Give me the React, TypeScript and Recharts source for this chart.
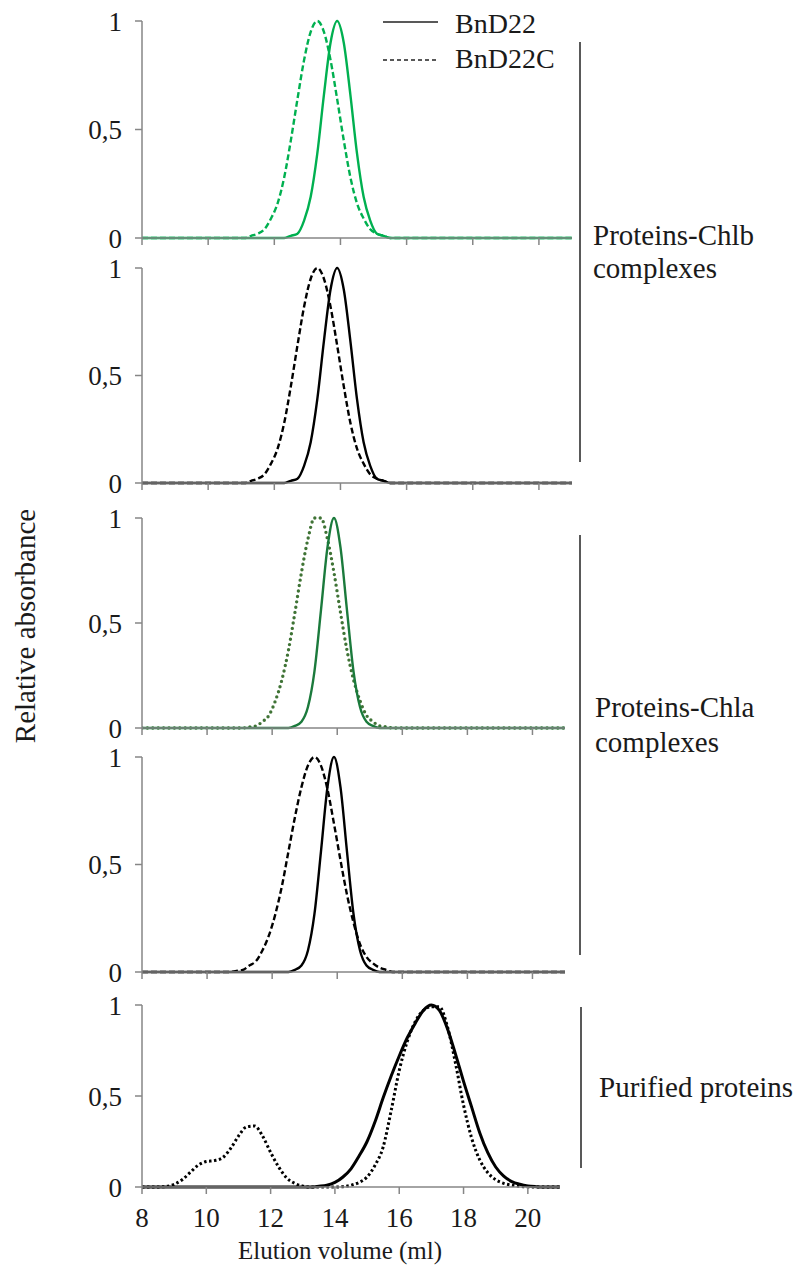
import { Line, LineChart, XAxis, YAxis } from "recharts";

// elution volume (ml) sample points
const elutionComplex = [
  8, 10.7, 10.9, 11.1, 11.3, 11.5, 11.7, 11.9, 12.1, 12.3, 12.5, 12.7, 12.9, 13.1, 13.3,
  13.5, 13.7, 13.9, 14.1, 14.3, 14.5, 14.7, 14.9, 15.1, 15.3, 15.5, 15.7, 15.9, 21,
];
const elutionPurified = [
  8, 8.5, 8.75, 9, 9.25, 9.5, 9.75, 10, 10.25, 10.5, 10.75, 11, 11.25, 11.5, 11.75, 12,
  12.25, 12.5, 12.75, 13, 13.25, 13.5, 13.75, 14, 14.25, 14.5, 14.75, 15, 15.25, 15.5,
  15.75, 16, 16.25, 16.5, 16.75, 17, 17.25, 17.5, 17.75, 18, 18.25, 18.5, 18.75, 19,
  19.25, 19.5, 19.75, 20, 20.25, 20.5, 21,
];

// Proteins-Chlb complexes (green panel, black panel)
const chlbGreenBnD22 = [
  0, 0, 0, 0, 0, 0, 0, 0, 0, 0, 0.01, 0.02, 0.08, 0.19, 0.39, 0.66, 0.9, 1, 0.9, 0.66,
  0.39, 0.19, 0.08, 0.02, 0.01, 0, 0, 0, 0,
];
const chlbGreenBnD22C = [
  0, 0, 0, 0, 0.01, 0.02, 0.04, 0.09, 0.16, 0.28, 0.45, 0.64, 0.82, 0.95, 1, 0.95, 0.82,
  0.64, 0.45, 0.28, 0.16, 0.09, 0.04, 0.02, 0.01, 0, 0, 0, 0,
];
const chlbBnD22 = [
  0, 0, 0, 0, 0, 0, 0, 0, 0, 0, 0.01, 0.02, 0.08, 0.19, 0.39, 0.66, 0.9, 1, 0.9, 0.66,
  0.39, 0.19, 0.08, 0.02, 0.01, 0, 0, 0, 0,
];
const chlbBnD22C = [
  0, 0, 0, 0, 0.01, 0.02, 0.04, 0.09, 0.16, 0.28, 0.45, 0.64, 0.82, 0.95, 1, 0.95, 0.82,
  0.64, 0.45, 0.28, 0.16, 0.09, 0.04, 0.02, 0.01, 0, 0, 0, 0,
];

// Proteins-Chla complexes
const chlaGreenBnD22 = [
  0, 0, 0, 0, 0, 0, 0, 0, 0, 0, 0, 0.01, 0.03, 0.1, 0.27, 0.56, 0.86, 1, 0.86, 0.56, 0.27,
  0.1, 0.03, 0.01, 0, 0, 0, 0, 0,
];
const chlaGreenBnD22C = [
  0, 0, 0, 0, 0.005, 0.01, 0.03, 0.06, 0.13, 0.23, 0.37, 0.55, 0.74, 0.9, 1, 1, 0.9, 0.74,
  0.55, 0.37, 0.23, 0.13, 0.06, 0.03, 0.01, 0.005, 0, 0, 0,
];
const chlaBnD22 = [
  0, 0, 0, 0, 0, 0, 0, 0, 0, 0, 0, 0.01, 0.03, 0.1, 0.27, 0.56, 0.86, 1, 0.86, 0.56, 0.27,
  0.1, 0.03, 0.01, 0, 0, 0, 0, 0,
];
const chlaBnD22C = [
  0, 0, 0.005, 0.01, 0.03, 0.05, 0.1, 0.17, 0.27, 0.4, 0.56, 0.72, 0.86, 0.96, 1, 0.96,
  0.85, 0.69, 0.52, 0.36, 0.23, 0.13, 0.07, 0.04, 0.02, 0.01, 0, 0, 0,
];

// Purified proteins
const purifiedBnD22 = [
  0, 0, 0, 0, 0, 0, 0, 0, 0, 0, 0, 0, 0, 0, 0, 0, 0, 0, 0, 0, 0, 0.004, 0.01, 0.025, 0.055,
  0.1, 0.17, 0.25, 0.36, 0.49, 0.61, 0.72, 0.82, 0.9, 0.97, 1, 0.97, 0.87, 0.73, 0.58,
  0.44, 0.3, 0.19, 0.11, 0.06, 0.03, 0.015, 0.006, 0.002, 0, 0,
];
const purifiedBnD22C = [
  0, 0, 0.003, 0.015, 0.04, 0.08, 0.12, 0.14, 0.145, 0.16, 0.21, 0.28, 0.33, 0.335, 0.28,
  0.19, 0.11, 0.05, 0.02, 0.005, 0, 0, 0, 0, 0.002, 0.01, 0.025, 0.055, 0.12, 0.22, 0.42,
  0.64, 0.8, 0.91, 0.97, 0.99, 0.99, 0.88, 0.68, 0.45, 0.27, 0.15, 0.08, 0.04, 0.02, 0.01,
  0.004, 0, 0, 0, 0,
];

const xTicks = [8, 10, 12, 14, 16, 18, 20];
const yTicks = [0, 0.5, 1];

const FONT = "'Liberation Serif', 'DejaVu Serif', 'Times New Roman', serif";
const AXIS = "#868686";
const TEXT = "#1a1a1a";

interface PanelProps {
  top: number;
  bottom: number;
  right: number;
  xs: number[];
  solid: number[];
  broken: number[];
  color: string;
  brokenColor: string;
  width: number;
  dash: string;
  brokenWidth: number;
  round?: boolean;
  showXLabels?: boolean;
}

function Panel({
  top,
  bottom,
  right,
  xs,
  solid,
  broken,
  color,
  brokenColor,
  width,
  dash,
  brokenWidth,
  round,
  showXLabels,
}: PanelProps) {
  const data = xs.map((x, i) => ({ x, solid: solid[i], broken: broken[i] }));
  // extra room above and below so the 0 and 1 labels are not cut by the svg
  const marginTop = 24;
  const xAxisHeight = showXLabels ? 50 : 24;
  const height = marginTop + (bottom - top) + xAxisHeight;
  const tickStyle = { fill: TEXT, fontSize: 27, style: { fontFamily: FONT } };

  return (
    <div style={{ position: "absolute", left: 0, top: top - marginTop }}>
      <LineChart
        width={802}
        height={height}
        data={data}
        margin={{ top: marginTop, right: 802 - right, bottom: 0, left: 82 }}
        style={{ fontFamily: FONT }}
      >
        <XAxis
          dataKey="x"
          type="number"
          domain={[8, 21]}
          ticks={xTicks}
          interval={0}
          allowDataOverflow
          height={xAxisHeight}
          tickSize={7}
          tickMargin={14}
          axisLine={{ stroke: AXIS, strokeWidth: 1.5 }}
          tickLine={{ stroke: AXIS, strokeWidth: 1.5 }}
          tick={tickStyle}
          tickFormatter={(v) => (showXLabels ? String(v) : "")}
        />
        <YAxis
          type="number"
          domain={[0, 1]}
          ticks={yTicks}
          interval={0}
          width={60}
          tickSize={7}
          tickMargin={13}
          axisLine={{ stroke: AXIS, strokeWidth: 1.5 }}
          tickLine={{ stroke: AXIS, strokeWidth: 1.5 }}
          tick={tickStyle}
          tickFormatter={(v) => String(v).replace(".", ",")}
        />
        <Line
          dataKey="broken"
          type="monotone"
          stroke={brokenColor}
          strokeWidth={brokenWidth}
          strokeDasharray={dash}
          strokeLinecap={round ? "round" : "butt"}
          dot={false}
          isAnimationActive={false}
        />
        <Line
          dataKey="solid"
          type="monotone"
          stroke={color}
          strokeWidth={width}
          dot={false}
          isAnimationActive={false}
        />
      </LineChart>
    </div>
  );
}

export default function App() {
  return (
    <div
      style={{
        position: "absolute",
        left: 0,
        top: 0,
        width: 802,
        height: 1268,
        background: "#fff",
        fontFamily: FONT,
      }}
    >
      <Panel
        top={21}
        bottom={238}
        right={572}
        xs={elutionComplex}
        solid={chlbGreenBnD22}
        broken={chlbGreenBnD22C}
        color="#00b050"
        brokenColor="#00b050"
        width={2.4}
        dash="6 3"
        brokenWidth={2.4}
      />
      <Panel
        top={268}
        bottom={483}
        right={572}
        xs={elutionComplex}
        solid={chlbBnD22}
        broken={chlbBnD22C}
        color="#000"
        brokenColor="#000"
        width={2.4}
        dash="6 3"
        brokenWidth={2.4}
      />
      <Panel
        top={518}
        bottom={728}
        right={565}
        xs={elutionComplex}
        solid={chlaGreenBnD22}
        broken={chlaGreenBnD22C}
        color="#1b7a3c"
        brokenColor="#3f7335"
        width={2.4}
        dash="0 5.4"
        brokenWidth={3.4}
        round
      />
      <Panel
        top={757}
        bottom={972}
        right={565}
        xs={elutionComplex}
        solid={chlaBnD22}
        broken={chlaBnD22C}
        color="#000"
        brokenColor="#000"
        width={2.4}
        dash="6 3"
        brokenWidth={2.4}
      />
      <Panel
        top={1005}
        bottom={1187}
        right={560}
        xs={elutionPurified}
        solid={purifiedBnD22}
        broken={purifiedBnD22C}
        color="#000"
        brokenColor="#000"
        width={3}
        dash="2.5 2.5"
        brokenWidth={3}
        showXLabels
      />

      <svg
        width={802}
        height={1268}
        style={{ position: "absolute", left: 0, top: 0, pointerEvents: "none", fontFamily: FONT }}
        fill={TEXT}
      >
        {/* legend */}
        <line x1={383} y1={22} x2={438} y2={22} stroke="#222" strokeWidth={1.5} />
        <text x={455} y={33} fontSize={28}>
          BnD22
        </text>
        <line
          x1={383}
          y1={60}
          x2={438}
          y2={60}
          stroke="#222"
          strokeWidth={1.5}
          strokeDasharray="4 3"
        />
        <text x={455} y={68} fontSize={28}>
          BnD22C
        </text>

        {/* group brackets */}
        <line x1={580} y1={42} x2={580} y2={462} stroke="#222" strokeWidth={1.5} />
        <line x1={580} y1={535} x2={580} y2={955} stroke="#222" strokeWidth={1.5} />
        <line x1={581} y1={1007} x2={581} y2={1168} stroke="#222" strokeWidth={1.5} />

        <text x={593} y={245} fontSize={29}>
          Proteins-Chlb
        </text>
        <text x={593} y={278} fontSize={29}>
          complexes
        </text>
        <text x={595} y={717} fontSize={29}>
          Proteins-Chla
        </text>
        <text x={595} y={752} fontSize={29}>
          complexes
        </text>
        <text x={599} y={1097} fontSize={29}>
          Purified proteins
        </text>

        {/* axis titles */}
        <text
          x={35}
          y={626}
          fontSize={29}
          textAnchor="middle"
          transform="rotate(-90 35 626)"
        >
          Relative absorbance
        </text>
        <text x={340} y={1259} fontSize={25} textAnchor="middle">
          Elution volume (ml)
        </text>
      </svg>
    </div>
  );
}
